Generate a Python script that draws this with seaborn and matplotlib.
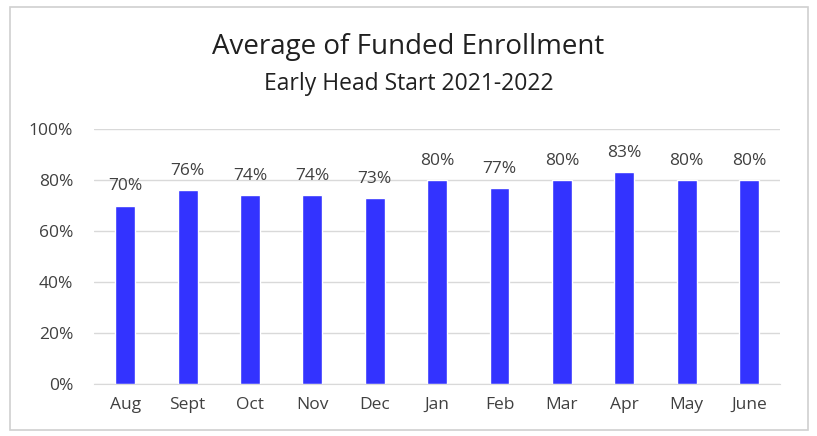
import matplotlib
matplotlib.use('Agg')
import matplotlib.pyplot as plt
import matplotlib.patches as patches
import seaborn as sns
import pandas as pd

months = ['Aug', 'Sept', 'Oct', 'Nov', 'Dec', 'Jan', 'Feb', 'Mar', 'Apr', 'May', 'June']
enrollment = [70, 76, 74, 74, 73, 80, 77, 80, 83, 80, 80]
y_ticks = [0, 20, 40, 60, 80, 100]

df = pd.DataFrame({'month': months, 'pct': enrollment})

sns.set_style('white')
plt.rcParams['font.family'] = ['Open Sans', 'DejaVu Sans']

fig = plt.figure(figsize=(8.17, 4.36), dpi=100)
ax = fig.add_axes([0.115, 0.119, 0.840, 0.585])

sns.barplot(data=df, x='month', y='pct', color='#3333FF', saturation=1,
            width=0.32, ax=ax)

ax.set_ylim(0, 100)
ax.set_yticks(y_ticks)
ax.set_yticklabels([f'{t}%' for t in y_ticks], fontsize=12.5, color='#404040')
ax.tick_params(axis='x', labelsize=12.5, labelcolor='#404040', length=0, pad=9)
ax.tick_params(axis='y', length=0, pad=15)
ax.set_xlabel('')
ax.set_ylabel('')
ax.yaxis.grid(True, color='#D9D9D9', linewidth=1)
ax.set_axisbelow(True)
for side in ['top', 'left', 'right']:
    ax.spines[side].set_visible(False)
ax.spines['bottom'].set_color('#D9D9D9')

# подписи значений над столбцами
for i, v in enumerate(enrollment):
    ax.annotate(f'{v}%', (i, v), xytext=(0, 8), textcoords='offset points',
                ha='center', va='bottom', fontsize=12.5, color='#404040')

fig.text(0.5, 0.892, 'Average of Funded Enrollment', ha='center', va='center',
         fontsize=20, color='#202020')
fig.text(0.5, 0.808, 'Early Head Start 2021-2022', ha='center', va='center',
         fontsize=16.5, color='#202020')

# рамка вокруг диаграммы
fig.patches.append(patches.Rectangle((0.012, 0.014), 0.977, 0.97, transform=fig.transFigure,
                                     fill=False, edgecolor='#D0D0D0', linewidth=1.2))

fig.savefig('out.png', dpi=100)
